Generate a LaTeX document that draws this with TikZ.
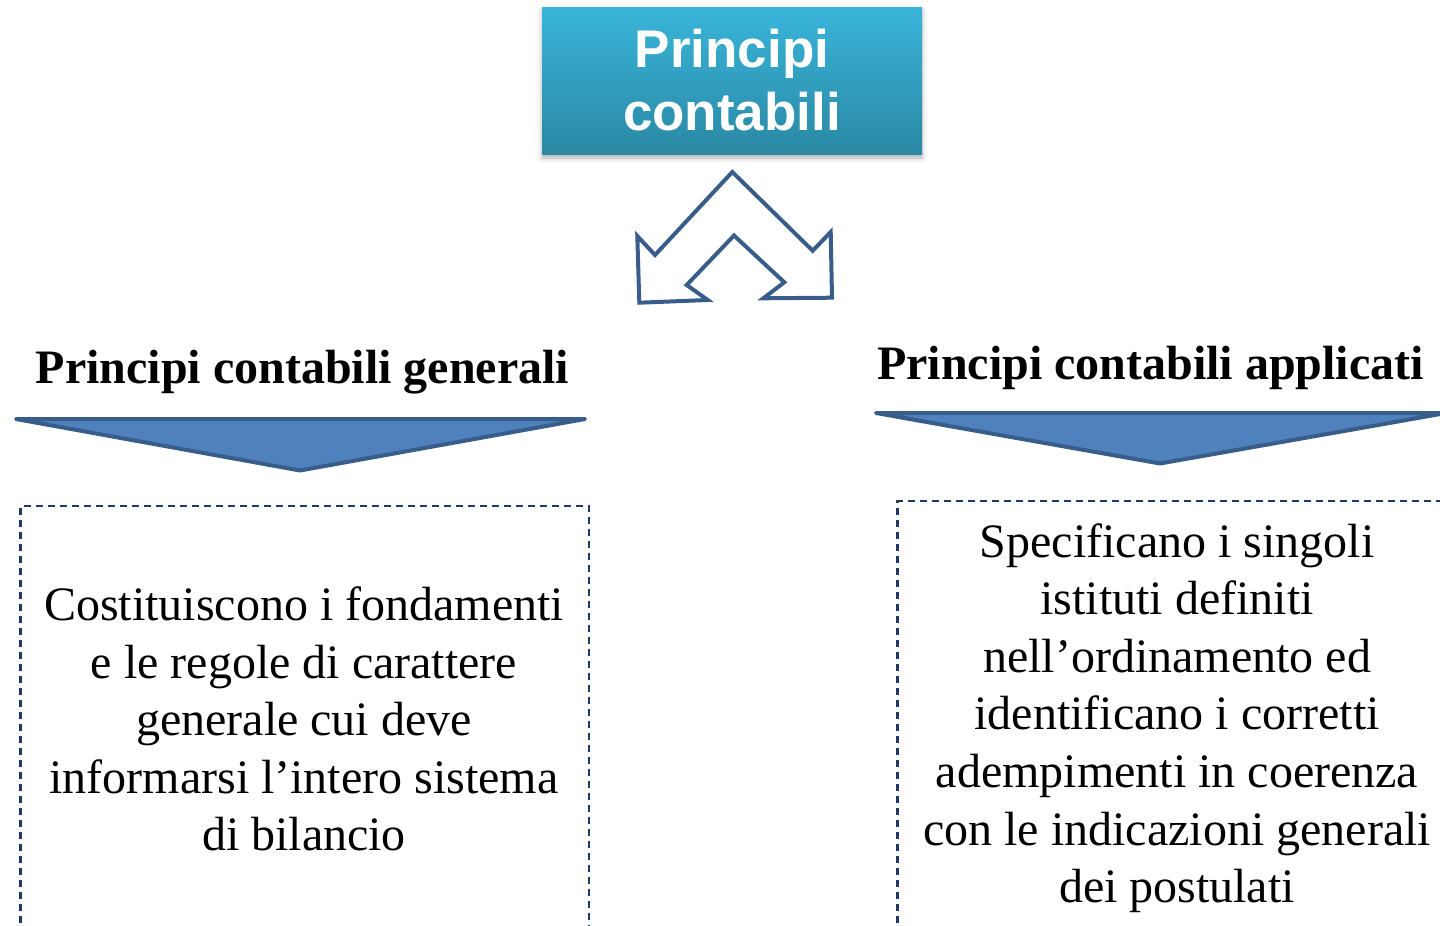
\documentclass[tikz,border=0pt]{standalone}
\usepackage{fontspec}
\setmainfont{Liberation Serif}
\newfontfamily\arialfont{Liberation Sans}
\usetikzlibrary{shadows.blur}
\definecolor{boxtop}{HTML}{39B5DA}
\definecolor{boxbot}{HTML}{2A88A4}
\definecolor{arrline}{HTML}{385D8A}
\definecolor{arrfill}{HTML}{4F81BD}
\definecolor{dashcol}{HTML}{1F3864}
\begin{document}
\begin{tikzpicture}[x=1pt,y=-1pt,
  titlebox/.style={draw=none, top color=boxtop, bottom color=boxbot, minimum width=380pt, minimum height=147pt, inner sep=0pt, text=white, align=center, font=\arialfont\bfseries\fontsize{53}{63}\selectfont, blur shadow={shadow xshift=0pt, shadow yshift=-4pt, shadow blur radius=5pt, shadow opacity=30}},
  heading/.style={font=\bfseries\fontsize{48}{58}\selectfont, inner sep=0pt},
  bodytext/.style={font=\fontsize{48}{57.6}\selectfont, align=center, inner sep=0pt},
  tri/.style={draw=arrline, fill=arrfill, line width=4pt, line join=round, line cap=round},
  dbox/.style={draw=dashcol, line width=2.2pt, dash pattern=on 7pt off 5pt},
  dblarrow/.style={draw=arrline, line width=4pt, line join=miter, fill=white}
]
\useasboundingbox (0,0) rectangle (1440,926);
\node[titlebox] (title) at (732,80.5) {Principi\\contabili};
% double arrow
\draw[dblarrow] (732.3,172) -- (812.7,250.7) -- (830.7,232) -- (832,297.7) -- (763.3,298.3) -- (784.3,282.3) -- (734,235.5) -- (686.7,285) -- (707.7,300) -- (639.3,302.7) -- (637.3,236) -- (655,255) -- cycle;
% headings
\node[heading, anchor=base] (hgen) at (302.5,383) {Principi contabili generali};
\node[heading, anchor=base] (happ) at (1150.5,379) {Principi contabili applicati};
% triangles
\draw[tri] (16,419) -- (585,419) -- (300,470.5) -- cycle;
\draw[tri] (876,413) -- (1446,413) -- (1160,463.5) -- cycle;
% dashed boxes
\draw[dbox] (20.5,935) -- (20.5,506) -- (589,506) -- (589,935);
\draw[dbox] (897.5,935) -- (897.5,501) -- (1450,501);
% body texts
\node[bodytext] (tgen) at (304,719) {Costituiscono i fondamenti\\e le regole di carattere\\generale cui deve\\informarsi l’intero sistema\\di bilancio};
\node[bodytext] (tapp) at (1177,718) {Specificano i singoli\\istituti definiti\\nell’ordinamento ed\\identificano i corretti\\adempimenti in coerenza\\con le indicazioni generali\\dei postulati};
\end{tikzpicture}
\end{document}
